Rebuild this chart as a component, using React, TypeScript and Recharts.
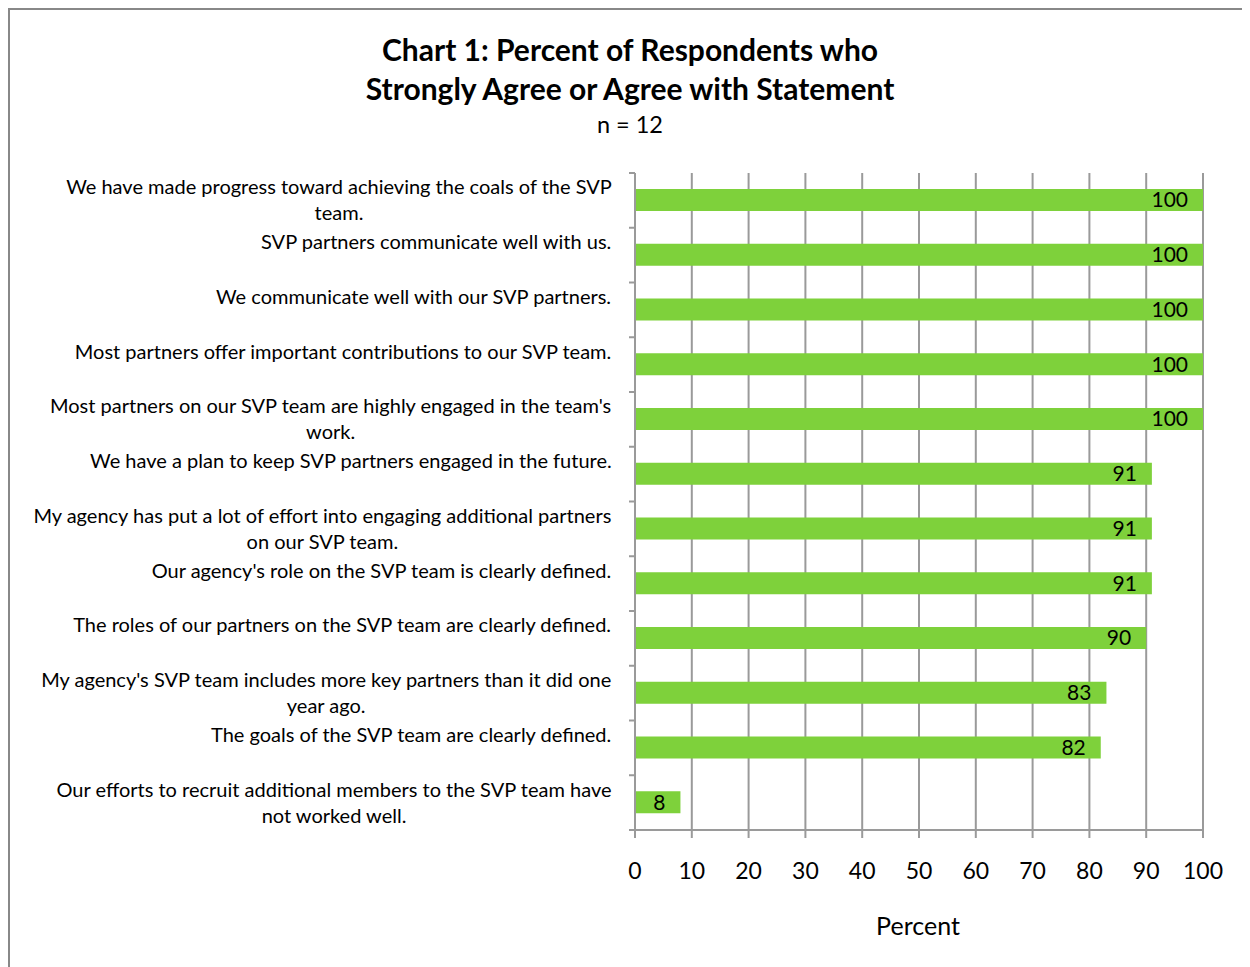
import React from "react";
import { BarChart, Bar, XAxis, YAxis, CartesianGrid, LabelList } from "recharts";

const categories: string[] = [
  "We have made progress toward achieving the coals of the SVP\nteam.",
  "SVP partners communicate well with us.",
  "We communicate well with our SVP partners.",
  "Most partners offer important contributions to our SVP team.",
  "Most partners on our SVP team are highly engaged in the team's\nwork.",
  "We have a plan to keep SVP partners engaged in the future.",
  "My agency has put a lot of effort into engaging additional partners\non our SVP team.",
  "Our agency's role on the SVP team is clearly defined.",
  "The roles of our partners on the SVP team are clearly defined.",
  "My agency's SVP team includes more key partners than it did one\nyear ago.",
  "The goals of the SVP team are clearly defined.",
  "Our efforts to recruit additional members to the SVP team have\nnot worked well.",
];
const values: number[] = [100, 100, 100, 100, 100, 91, 91, 91, 90, 83, 82, 8];
const xTicks: number[] = [0, 10, 20, 30, 40, 50, 60, 70, 80, 90, 100];

const titleLines = ["Chart 1: Percent of Respondents who", "Strongly Agree or Agree with Statement"];
const subtitle = "n = 12";
const xAxisTitle = "Percent";

const data = categories.map((label, i) => ({ label, value: values[i] }));

const FONT = "Lato, 'Open Sans', sans-serif";
const CAT_FONT_SIZE = 20;
const CHART_W = 1240;
const CHART_H = 957;
const MARGIN = { top: 163, right: 47, bottom: 77, left: 0 };
const XAXIS_H = 60;
const PLOT_H = CHART_H - MARGIN.top - MARGIN.bottom - XAXIS_H;
const BAND = PLOT_H / categories.length;
const GRID = "#9a9a9a";

let ctx: CanvasRenderingContext2D | null = null;
function measure(text: string): number {
  if (!ctx) {
    const c = document.createElement("canvas");
    ctx = c.getContext("2d");
  }
  if (!ctx) return text.length * CAT_FONT_SIZE * 0.5;
  ctx.font = `${CAT_FONT_SIZE}px ${FONT}`;
  return ctx.measureText(text).width;
}

const CategoryTick = (props: any) => {
  const { x, y, payload, index } = props;
  const lines: string[] = String(payload.value).split("\n");
  const maxW = Math.max(...lines.map(measure));
  const cx = x - maxW / 2;
  const offsets = [-14, 12];
  const axisX = x + 23;
  return (
    <g>
      <line x1={axisX - 6} x2={axisX} y1={y - BAND / 2} y2={y - BAND / 2} stroke={GRID} strokeWidth={2} />
      {index === categories.length - 1 && (
        <line x1={axisX - 6} x2={axisX} y1={y + BAND / 2} y2={y + BAND / 2} stroke={GRID} strokeWidth={2} />
      )}
      {lines.map((ln, i) => (
        <text
          key={i}
          x={cx}
          y={y + offsets[i]}
          textAnchor="middle"
          dominantBaseline="central"
          fontFamily={FONT}
          fontSize={CAT_FONT_SIZE}
          fill="#000"
        >
          {ln}
        </text>
      ))}
    </g>
  );
};

export default function App() {
  return (
    <div
      style={{
        position: "relative",
        width: 1242,
        height: 959,
        boxSizing: "border-box",
        borderTop: "2px solid #888",
        borderLeft: "2px solid #888",
        background: "#fff",
        fontFamily: FONT,
      }}
    >
      <BarChart
        layout="vertical"
        width={CHART_W}
        height={CHART_H}
        data={data}
        margin={MARGIN}
        style={{ fontFamily: FONT }}
      >
        <CartesianGrid horizontal={false} vertical={true} stroke={GRID} strokeWidth={2} />
        <XAxis
          type="number"
          domain={[0, 100]}
          ticks={xTicks}
          interval={0}
          height={XAXIS_H}
          tickSize={8}
          tickMargin={25}
          axisLine={{ stroke: GRID, strokeWidth: 2 }}
          tickLine={{ stroke: GRID, strokeWidth: 2 }}
          tick={{ fill: "#000", fontSize: 23, fontFamily: FONT }}
        />
        <YAxis
          type="category"
          dataKey="label"
          width={625}
          interval={0}
          tickSize={6}
          tickMargin={17}
          tickLine={false}
          axisLine={{ stroke: GRID, strokeWidth: 2 }}
          tick={<CategoryTick />}
        />
        <Bar dataKey="value" fill="#7ED13B" barSize={22} isAnimationActive={false}>
          <LabelList dataKey="value" position="insideRight" offset={15} fill="#000" fontSize={21} fontFamily={FONT} />
        </Bar>
      </BarChart>
      <svg
        width={CHART_W}
        height={CHART_H}
        style={{ position: "absolute", left: 0, top: 0, pointerEvents: "none" }}
      >
        <text x={620} y={39} textAnchor="middle" dominantBaseline="central" fontFamily={FONT} fontWeight="bold" fontSize={30} fill="#000">
          {titleLines[0]}
        </text>
        <text x={620} y={78} textAnchor="middle" dominantBaseline="central" fontFamily={FONT} fontWeight="bold" fontSize={30} fill="#000">
          {titleLines[1]}
        </text>
        <text x={620} y={114} textAnchor="middle" dominantBaseline="central" fontFamily={FONT} fontSize={23.5} fill="#000">
          {subtitle}
        </text>
        <text x={908} y={915} textAnchor="middle" dominantBaseline="central" fontFamily={FONT} fontSize={25} fill="#000">
          {xAxisTitle}
        </text>
      </svg>
    </div>
  );
}
